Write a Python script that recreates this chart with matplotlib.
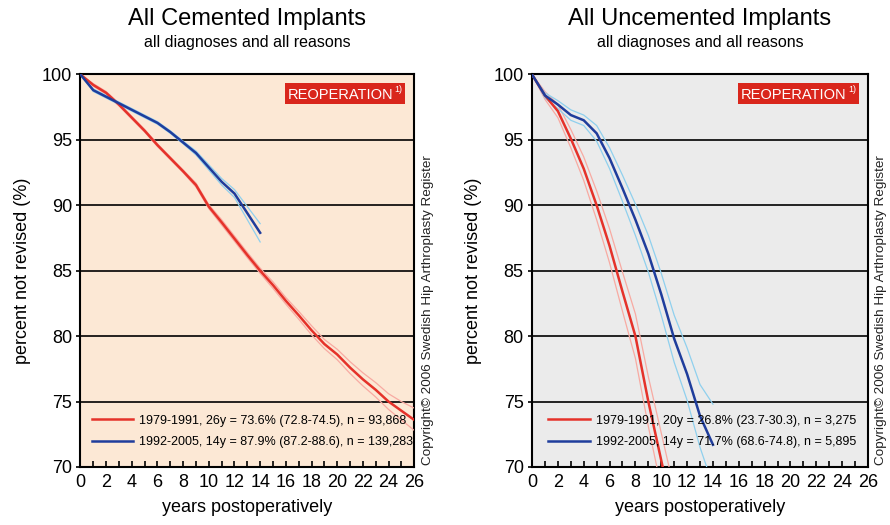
import matplotlib.pyplot as plt
from matplotlib.patches import Rectangle
from matplotlib.ticker import MultipleLocator

plt.rcParams['font.family'] = ['Liberation Sans', 'DejaVu Sans']

# cemented implants
cem_years_old = list(range(0, 27))
cem_old = [100, 99.2, 98.6, 97.7, 96.7, 95.7, 94.6, 93.6, 92.6, 91.55, 89.9, 88.7, 87.45,
           86.2, 85.0, 83.9, 82.7, 81.6, 80.45, 79.4, 78.6, 77.6, 76.7, 75.9, 75.0, 74.3, 73.6]
cem_old_lo = [100, 99.1, 98.5, 97.6, 96.6, 95.6, 94.5, 93.5, 92.5, 91.4, 89.75, 88.5, 87.25,
              86.0, 84.8, 83.65, 82.45, 81.3, 80.1, 79.05, 78.2, 77.15, 76.2, 75.35, 74.4, 73.6, 72.8]
cem_old_hi = [100, 99.3, 98.7, 97.8, 96.8, 95.8, 94.7, 93.7, 92.7, 91.7, 90.05, 88.9, 87.65,
              86.4, 85.2, 84.15, 82.95, 81.9, 80.8, 79.75, 79.0, 78.05, 77.2, 76.45, 75.6, 75.0, 74.5]

cem_years_new = list(range(0, 15))
cem_new = [100, 98.8, 98.3, 97.8, 97.3, 96.8, 96.3, 95.6, 94.8, 94.0, 92.9, 91.8, 90.9, 89.4, 87.9]
cem_new_lo = [100, 98.7, 98.2, 97.7, 97.2, 96.7, 96.2, 95.5, 94.7, 93.85, 92.7, 91.55, 90.6, 88.9, 87.2]
cem_new_hi = [100, 98.9, 98.4, 97.9, 97.4, 96.9, 96.4, 95.7, 94.9, 94.15, 93.1, 92.05, 91.2, 89.9, 88.6]

# uncemented implants
unc_years_old = list(range(0, 12))
unc_old = [100, 98.4, 97.2, 95.1, 92.8, 90.0, 86.9, 83.4, 80.0, 75.0, 70.5, 66.0]
unc_old_lo = [100, 98.1, 96.7, 94.4, 91.9, 88.9, 85.6, 81.9, 78.3, 73.1, 68.4, 63.7]
unc_old_hi = [100, 98.7, 97.7, 95.8, 93.7, 91.1, 88.2, 84.9, 81.7, 76.9, 72.6, 68.3]

unc_years_new = list(range(0, 15))
unc_new = [100, 98.4, 97.7, 96.9, 96.5, 95.5, 93.6, 91.3, 88.9, 86.3, 83.2, 79.8, 77.1, 73.9, 71.7]
unc_new_lo = [100, 98.2, 97.4, 96.5, 96.1, 94.9, 92.8, 90.3, 87.7, 84.9, 81.6, 78.0, 75.1, 71.5, 68.6]
unc_new_hi = [100, 98.6, 98.0, 97.3, 96.9, 96.1, 94.4, 92.3, 90.1, 87.7, 84.8, 81.6, 79.1, 76.3, 74.8]

RED = '#e5322a'
PINK = '#f8aaa2'
BLUE = '#1f3d9c'
LBLUE = '#8fd0ee'


def draw_panel(ax, bg, title, old, new, labels, leg_x):
    ax.set_facecolor(bg)
    (yo, vo, lo_o, hi_o), (yn, vn, lo_n, hi_n) = old, new
    for arr in (lo_o, hi_o):
        ax.plot(yo, arr, color=PINK, lw=0.9, zorder=3)
    for arr in (lo_n, hi_n):
        ax.plot(yn, arr, color=LBLUE, lw=0.9, zorder=3)
    ax.plot(yo, vo, color=RED, lw=1.8, zorder=4, label=labels[0])
    ax.plot(yn, vn, color=BLUE, lw=1.8, zorder=4, label=labels[1])

    ax.set_xlim(0, 26)
    ax.set_ylim(70, 100)
    ax.xaxis.set_major_locator(MultipleLocator(2))
    ax.xaxis.set_minor_locator(MultipleLocator(1))
    ax.yaxis.set_major_locator(MultipleLocator(5))
    ax.tick_params(axis='x', which='both', direction='in', length=4, width=1.2,
                   labelsize=13, pad=5)
    ax.tick_params(axis='y', direction='out', length=3, width=1.2, labelsize=13, pad=3)
    ax.yaxis.grid(True, color='black', lw=1.2)
    ax.set_axisbelow(True)
    for s in ax.spines.values():
        s.set_linewidth(1.5)
    ax.set_xlabel('years postoperatively', fontsize=13, labelpad=6)
    ax.set_ylabel('percent not revised (%)', fontsize=13, labelpad=8)

    ax.text(0.5, 1.125, title, transform=ax.transAxes, ha='center', va='baseline', fontsize=17)
    ax.text(0.5, 1.071, 'all diagnoses and all reasons', transform=ax.transAxes,
            ha='center', va='baseline', fontsize=11.5)

    ax.add_patch(Rectangle((0.612, 0.925), 0.36, 0.053, transform=ax.transAxes,
                           facecolor='#d9261c', edgecolor='none', zorder=5))
    ax.text(0.622, 0.937, 'REOPERATION', transform=ax.transAxes, color='white',
            fontsize=10.5, va='baseline', ha='left', zorder=6)
    ax.text(0.94, 0.956, '1)', transform=ax.transAxes, color='white',
            fontsize=6.5, va='baseline', ha='left', zorder=6)

    ax.text(1.04, 0.40, 'Copyright\u00a9 2006 Swedish Hip Arthroplasty Register',
            transform=ax.transAxes, rotation=90, ha='center', va='center', fontsize=9.7,
            color='#222222')

    ax.legend(loc='lower left', frameon=False, fontsize=9, handlelength=3.3,
              handletextpad=0.5, labelspacing=0.75, bbox_to_anchor=(leg_x, 0.02))


fig = plt.figure(figsize=(8.9, 5.25), dpi=100)
ax1 = fig.add_axes([0.0904, 0.1105, 0.375, 0.7476])
ax2 = fig.add_axes([0.5978, 0.1105, 0.3775, 0.7476])

draw_panel(ax1, '#fce8d5', 'All Cemented Implants',
           (cem_years_old, cem_old, cem_old_lo, cem_old_hi),
           (cem_years_new, cem_new, cem_new_lo, cem_new_hi),
           ['1979-1991, 26y = 73.6% (72.8-74.5), n = 93,868',
            '1992-2005, 14y = 87.9% (87.2-88.6), n = 139,283'], 0.0)
draw_panel(ax2, '#ebebeb', 'All Uncemented Implants',
           (unc_years_old, unc_old, unc_old_lo, unc_old_hi),
           (unc_years_new, unc_new, unc_new_lo, unc_new_hi),
           ['1979-1991, 20y = 26.8% (23.7-30.3), n = 3,275',
            '1992-2005, 14y = 71.7% (68.6-74.8), n = 5,895'], 0.015)

fig.savefig('out.png', dpi=100)
